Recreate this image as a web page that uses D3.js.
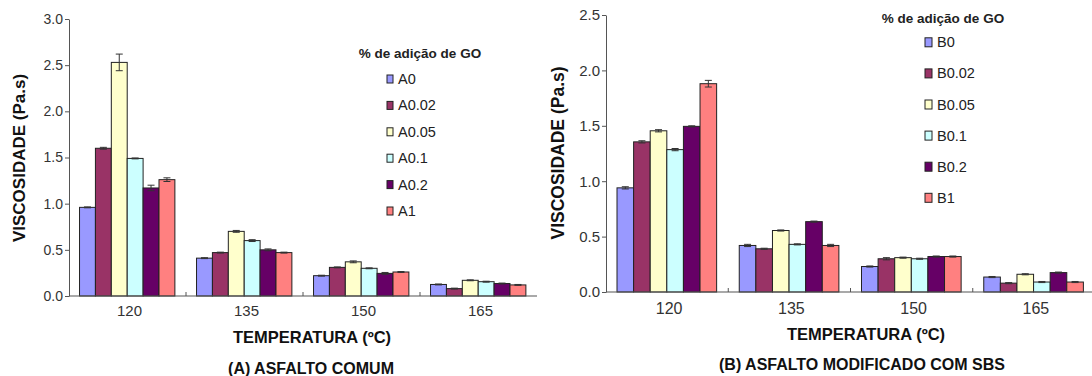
<!DOCTYPE html>
<html>
<head>
<meta charset="utf-8">
<script src="https://cdn.jsdelivr.net/npm/d3@7"></script>
<style>
  body { margin: 0; background: #fff; }
  svg { font-family: "Liberation Sans", Arial, sans-serif; }
</style>
</head>
<body>
<svg id="chart" width="1092" height="376"></svg>
<script>
// categories (temperature, ºC)
const categories = ["120", "135", "150", "165"];

// panel A series
const seriesA = ["A0", "A0.02", "A0.05", "A0.1", "A0.2", "A1"];
const valuesA = [
  [0.96, 1.60, 2.53, 1.49, 1.17, 1.26],
  [0.41, 0.47, 0.70, 0.60, 0.50, 0.47],
  [0.22, 0.31, 0.37, 0.30, 0.245, 0.26],
  [0.125, 0.08, 0.17, 0.155, 0.135, 0.12]
];
const errorsA = [
  [0.005, 0.01, 0.09, 0.005, 0.03, 0.02],
  [0.005, 0.005, 0.01, 0.01, 0.01, 0.005],
  [0.005, 0.005, 0.01, 0.005, 0.01, 0.005],
  [0.005, 0.005, 0.005, 0.005, 0.005, 0.005]
];
const ticksA = [0, 0.5, 1.0, 1.5, 2.0, 2.5, 3.0];

// panel B series
const seriesB = ["B0", "B0.02", "B0.05", "B0.1", "B0.2", "B1"];
const valuesB = [
  [0.94, 1.355, 1.455, 1.285, 1.495, 1.88],
  [0.42, 0.39, 0.555, 0.43, 0.635, 0.42],
  [0.23, 0.30, 0.31, 0.30, 0.32, 0.32],
  [0.135, 0.08, 0.16, 0.09, 0.175, 0.09]
];
const errorsB = [
  [0.01, 0.01, 0.01, 0.01, 0.005, 0.03],
  [0.01, 0.005, 0.005, 0.005, 0.005, 0.01],
  [0.005, 0.01, 0.005, 0.005, 0.005, 0.005],
  [0.005, 0.005, 0.005, 0.005, 0.005, 0.005]
];
const ticksB = [0, 0.5, 1.0, 1.5, 2.0, 2.5];

const colors = ["#9999ff", "#993366", "#ffffcc", "#ccffff", "#660066", "#ff8080"];

const svg = d3.select("#chart");

function drawPanel(opt) {
  const g = svg.append("g");

  const x = d3.scaleBand()
    .domain(categories)
    .range([opt.left, opt.right])
    .padding(0);

  const bw = x.bandwidth();
  const xs = d3.scaleBand()
    .domain(opt.series)
    .range([bw * 0.09, bw * 0.905])
    .padding(0);

  const y = d3.scaleLinear()
    .domain([0, opt.max])
    .range([opt.bottom, opt.top]);

  // bars
  categories.forEach((c, ci) => {
    opt.series.forEach((s, si) => {
      const v = opt.values[ci][si];
      const e = opt.errors[ci][si];
      const bx = x(c) + xs(s);
      g.append("rect")
        .attr("x", bx)
        .attr("y", y(v))
        .attr("width", xs.bandwidth())
        .attr("height", y(0) - y(v))
        .attr("fill", colors[si])
        .attr("stroke", "#222")
        .attr("stroke-width", 1);

      // error bar
      const cx = bx + xs.bandwidth() / 2;
      g.append("line")
        .attr("x1", cx).attr("x2", cx)
        .attr("y1", y(v + e)).attr("y2", y(v - e))
        .attr("stroke", "#333").attr("stroke-width", 1);
      [v + e, v - e].forEach(t => {
        g.append("line")
          .attr("x1", cx - 3.5).attr("x2", cx + 3.5)
          .attr("y1", y(t)).attr("y2", y(t))
          .attr("stroke", "#333").attr("stroke-width", 1);
      });
    });
  });

  // y axis
  const yAxis = g.append("g")
    .attr("transform", `translate(${opt.left},0)`)
    .call(d3.axisLeft(y).tickValues(opt.ticks).tickFormat(d3.format(".1f")).tickSize(4).tickSizeOuter(0));
  yAxis.select(".domain").attr("stroke", "#555");
  yAxis.selectAll(".tick line").attr("stroke", "#555");
  yAxis.selectAll(".tick text")
    .attr("font-size", opt.tickFont)
    .attr("fill", "#333")
    .attr("font-family", "Liberation Sans, Arial, sans-serif")
    .attr("x", -6);

  // x axis
  g.append("line")
    .attr("x1", opt.left).attr("x2", opt.right)
    .attr("y1", y(0)).attr("y2", y(0))
    .attr("stroke", "#555").attr("stroke-width", 1.2);
  categories.slice(1).forEach(c => {
    g.append("line")
      .attr("x1", x(c)).attr("x2", x(c))
      .attr("y1", y(0)).attr("y2", y(0) - 4)
      .attr("stroke", "#555");
  });
  g.selectAll(".xlab")
    .data(categories)
    .enter().append("text")
    .attr("x", d => x(d) + bw / 2 + 2)
    .attr("y", opt.xTickY)
    .attr("dy", "0.35em")
    .attr("text-anchor", "middle")
    .attr("font-size", opt.xTickFont)
    .attr("fill", "#333")
    .text(d => d);

  // y label
  g.append("text")
    .attr("transform", `translate(${opt.yLabelX},${opt.yLabelY}) rotate(-90)`)
    .attr("dy", "0.35em")
    .attr("text-anchor", "middle")
    .attr("font-size", opt.yLabelFont)
    .attr("font-weight", "bold")
    .attr("fill", "#111")
    .text("VISCOSIDADE (Pa.s)");

  // x label + subtitle
  g.append("text")
    .attr("x", opt.xLabelX).attr("y", opt.xLabelY)
    .attr("dy", "0.35em")
    .attr("text-anchor", "middle")
    .attr("font-size", 16.5)
    .attr("font-weight", "bold")
    .attr("fill", "#111")
    .text("TEMPERATURA (ºC)");
  g.append("text")
    .attr("x", opt.subX).attr("y", opt.subY)
    .attr("dy", "0.35em")
    .attr("text-anchor", "middle")
    .attr("font-size", 16)
    .attr("font-weight", "bold")
    .attr("fill", "#111")
    .text(opt.subtitle);

  // legend
  g.append("text")
    .attr("x", opt.legTitleX).attr("y", opt.legTitleY)
    .attr("dy", "0.35em")
    .attr("text-anchor", "middle")
    .attr("font-size", 13.5)
    .attr("font-weight", "bold")
    .attr("fill", "#222")
    .text("% de adição de GO");
  opt.series.forEach((s, si) => {
    const ly = opt.legY + si * opt.legStep;
    g.append("rect")
      .attr("x", opt.legX).attr("y", ly - opt.sw / 2 - 0.5)
      .attr("width", opt.sw - 1).attr("height", opt.sw + 1)
      .attr("fill", colors[si])
      .attr("stroke", "#222");
    g.append("text")
      .attr("x", opt.legX + opt.sw + 4).attr("y", ly)
      .attr("dy", "0.35em")
      .attr("font-size", 14.5)
      .attr("fill", "#222")
      .text(s);
  });
}

drawPanel({
  series: seriesA, values: valuesA, errors: errorsA, ticks: ticksA, max: 3.0,
  left: 69, right: 537, top: 19, bottom: 296,
  tickFont: 14, xTickFont: 15, xTickY: 311,
  yLabelX: 19, yLabelY: 158, yLabelFont: 17,
  xLabelX: 312, xLabelY: 337, subX: 311, subY: 368,
  subtitle: "(A) ASFALTO COMUM",
  legTitleX: 420, legTitleY: 53, legX: 387, legY: 79, legStep: 26.4, sw: 7
});

drawPanel({
  series: seriesB, values: valuesB, errors: errorsB, ticks: ticksB, max: 2.5,
  left: 606, right: 1095, top: 15, bottom: 292,
  tickFont: 15, xTickFont: 16, xTickY: 308,
  yLabelX: 558, yLabelY: 153, yLabelFont: 17.5,
  xLabelX: 866, xLabelY: 334, subX: 862, subY: 364,
  subtitle: "(B) ASFALTO MODIFICADO COM SBS",
  legTitleX: 943, legTitleY: 18, legX: 925, legY: 42.3, legStep: 31.1, sw: 8
});
</script>
</body>
</html>
